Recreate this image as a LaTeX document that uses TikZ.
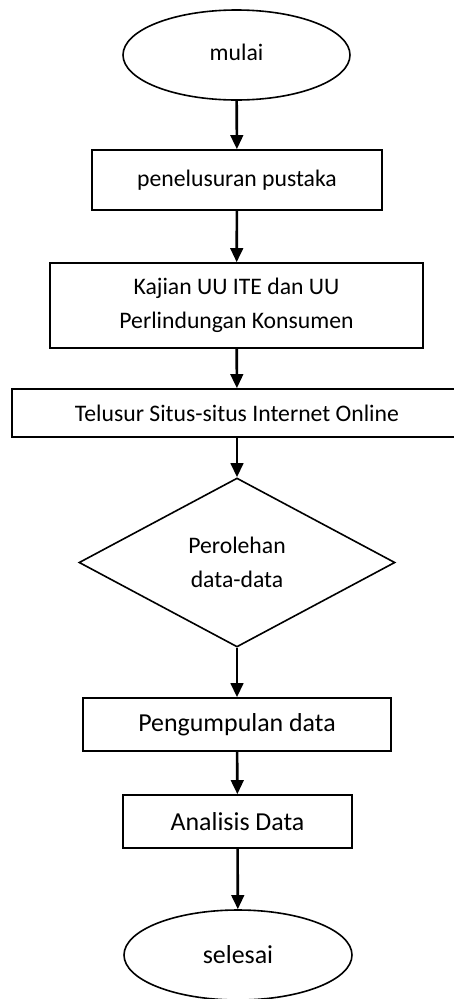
\documentclass[tikz,border=0pt]{standalone}
\usepackage{fontspec}
\setmainfont{Carlito}
\usetikzlibrary{shapes.geometric,arrows.meta}
\tikzset{
  base/.style={draw=black, line width=1.6pt, inner sep=0pt, align=center,
    font=\fontsize{23.7}{34}\selectfont},
  big/.style={font=\fontsize{25.9}{34}\selectfont},
  terminal/.style={base, ellipse},
  process/.style={base, rectangle},
  decision/.style={base, diamond},
  flow/.style={line width=2.6pt, -{Triangle[width=12.5pt,length=14pt]}},
}
\begin{document}
\begin{tikzpicture}[x=1pt,y=-1pt]
  \useasboundingbox (0,0) rectangle (453,999);
  \node[terminal, minimum width=227pt, minimum height=90pt] (start) at (236.5,55) {\raisebox{6pt}{mulai}};
  \node[process, minimum width=290pt, minimum height=60pt] (lit) at (237,180) {penelusuran pustaka};
  \node[process, minimum width=373pt, minimum height=85pt] (law) at (236.5,305.5)
    {Kajian UU ITE dan UU\\Perlindungan Konsumen};
  \node[process, minimum width=450pt, minimum height=48pt] (web) at (237,413)
    {Telusur Situs-situs Internet Online};
  \node[decision, minimum width=316pt, minimum height=169pt, aspect=1.87] (get) at (237,562.5)
    {Perolehan\\data-data};
  \node[process, big, minimum width=308pt, minimum height=53pt] (collect) at (237,724.5)
    {Pengumpulan data};
  \node[process, big, minimum width=229pt, minimum height=53pt] (anal) at (237.5,821.5)
    {Analisis Data};
  \node[terminal, big, minimum width=228pt, minimum height=90pt] (stop) at (238,955) {\raisebox{2pt}{selesai}};

  \draw[flow] (start) -- (lit);
  \draw[flow] (lit) -- (law);
  \draw[flow] (law) -- (web);
  \draw[flow] (web) -- (get);
  \draw[flow] (get) -- (collect);
  \draw[flow] (collect) -- (anal);
  \draw[flow] (anal) -- (stop);
\end{tikzpicture}
\end{document}
